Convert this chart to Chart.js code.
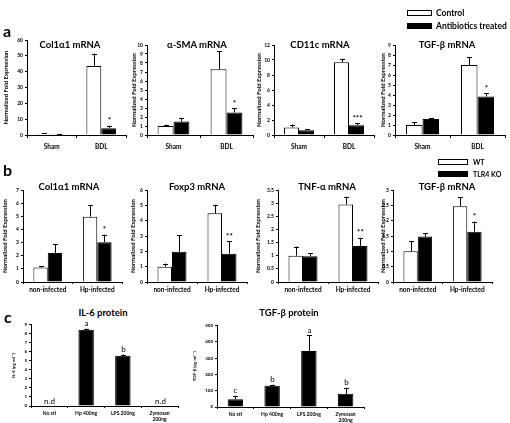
<!DOCTYPE html>
<html>
<head>
<meta charset="utf-8">
<script src="https://cdn.jsdelivr.net/npm/chart.js@4.4.1/dist/chart.umd.min.js"></script>
<style>
  body { margin: 0; background: #fff; }
  #fig { position: relative; width: 510px; height: 423px; overflow: hidden; font-family: Lato, 'Open Sans', sans-serif; color: #000; }
  #fig canvas { position: absolute; }
  .txt { position: absolute; font-weight: bold; white-space: nowrap; transform: translate(-50%, -50%); }
  .letter { position: absolute; font-weight: bold; font-size: 16px; line-height: 1; }
  .box { position: absolute; border: 1px solid #000; box-sizing: border-box; }
  .leg { position: absolute; font-weight: bold; white-space: nowrap; transform: translateY(-50%); }
</style>
</head>
<body>
<div id="fig"></div>
<script>
// categories
const groupsA = ['Sham', 'BDL'];
const groupsB = ['non-infected', 'Hp-infected'];
const groupsC = ['No sti', 'Hp 400ng', 'LPS 200ng', ['Zymosan', '200ng']];

// panel a - Control vs Antibiotics treated
const aCol1Ctrl = [0.8, 43.6];
const aCol1CtrlErr = [0.15, 7.8];
const aCol1Abx = [0.5, 4.3];
const aCol1AbxErr = [0.2, 1.6];
const aCol1AbxSig = ['', '*'];

const aSmaCtrl = [1.0, 7.3];
const aSmaCtrlErr = [0.15, 2.0];
const aSmaAbx = [1.5, 2.5];
const aSmaAbxErr = [0.4, 0.45];
const aSmaAbxSig = ['', '*'];

const aCd11cCtrl = [1.0, 9.7];
const aCd11cCtrlErr = [0.4, 0.45];
const aCd11cAbx = [0.65, 1.3];
const aCd11cAbxErr = [0.13, 0.3];
const aCd11cAbxSig = ['', '***'];

const aTgfCtrl = [1.0, 7.0];
const aTgfCtrlErr = [0.3, 0.8];
const aTgfAbx = [1.6, 3.85];
const aTgfAbxErr = [0.07, 0.35];
const aTgfAbxSig = ['', '*'];

// panel b - WT vs TLR4 KO
const bCol1Wt = [1.1, 4.97];
const bCol1WtErr = [0.12, 0.9];
const bCol1Ko = [2.2, 3.03];
const bCol1KoErr = [0.7, 0.57];
const bCol1KoSig = ['', '*'];

const bFoxWt = [1.0, 4.48];
const bFoxWtErr = [0.2, 0.56];
const bFoxKo = [1.97, 1.85];
const bFoxKoErr = [1.08, 0.82];
const bFoxKoSig = ['', '**'];

const bTnfWt = [1.0, 2.95];
const bTnfWtErr = [0.35, 0.3];
const bTnfKo = [0.98, 1.37];
const bTnfKoErr = [0.12, 0.31];
const bTnfKoSig = ['', '**'];

const bTgfWt = [1.0, 2.47];
const bTgfWtErr = [0.34, 0.29];
const bTgfKo = [1.48, 1.64];
const bTgfKoErr = [0.12, 0.33];
const bTgfKoSig = ['', '*'];

// panel c - protein
const cIl6 = [0, 8.45, 5.55, 0];
const cIl6Err = [0, 0.12, 0.15, 0];
const cIl6Sig = ['n.d', 'a', 'b', 'n.d'];

const cTgf = [48, 131, 344, 81];
const cTgfErr = [21, 6, 99, 38];
const cTgfSig = ['c', 'b', 'a', 'b'];

const FONT = "Lato, 'Open Sans', sans-serif";
const fig = document.getElementById('fig');

// Draws one-sided error bars and significance marks above the bars
const errorBars = {
    id: 'errorBars',
    afterDatasetsDraw(chart, args, opts) {
        const ctx = chart.ctx;
        const yScale = chart.scales.y;
        chart.data.datasets.forEach((ds, di) => {
            const meta = chart.getDatasetMeta(di);
            meta.data.forEach((bar, i) => {
                const e = (ds.errors || [])[i] || 0;
                const top = yScale.getPixelForValue(ds.data[i] + e);
                const x = Math.round(bar.x) + 0.5;
                ctx.save();
                ctx.strokeStyle = '#000';
                ctx.lineWidth = 1;
                if (e > 0) {
                    ctx.beginPath();
                    ctx.moveTo(x, bar.y);
                    ctx.lineTo(x, top);
                    ctx.moveTo(x - 2.5, Math.round(top) + 0.5);
                    ctx.lineTo(x + 2.5, Math.round(top) + 0.5);
                    ctx.stroke();
                }
                const mark = (ds.marks || [])[i];
                if (mark) {
                    ctx.fillStyle = '#000';
                    ctx.font = opts.font || ('bold 8px ' + FONT);
                    ctx.textAlign = 'center';
                    ctx.textBaseline = 'bottom';
                    ctx.fillText(mark, x, top - (opts.gap || 1));
                }
                ctx.restore();
            });
        });
    }
};

function addText(text, x, y, size, cls) {
    const d = document.createElement('div');
    d.className = cls || 'txt';
    d.style.left = x + 'px';
    d.style.top = y + 'px';
    d.style.fontSize = size + 'px';
    d.textContent = text;
    fig.appendChild(d);
}

function makePanel(p) {
    const yTitleSize = p.yTitleSize || 6;
    const left = Math.round(p.tx - yTitleSize * 0.6);
    const top = p.pt - 4;
    const width = p.axR + 3 - left;
    const height = p.zy + p.xh - top;
    const yWidth = p.ax - left;

    const canvas = document.createElement('canvas');
    canvas.width = width;
    canvas.height = height;
    canvas.style.left = left + 'px';
    canvas.style.top = top + 'px';
    canvas.style.width = width + 'px';
    canvas.style.height = height + 'px';
    fig.appendChild(canvas);

    new Chart(canvas, {
        type: 'bar',
        data: { labels: p.labels, datasets: p.datasets },
        options: {
            responsive: false,
            animation: false,
            devicePixelRatio: 1,
            layout: { padding: { top: 4, right: 3, left: 0, bottom: 0 } },
            datasets: { bar: { categoryPercentage: p.cp, barPercentage: p.bp || 1 } },
            plugins: {
                legend: { display: false },
                tooltip: { enabled: false },
                errorBars: { font: p.markFont, gap: p.markGap }
            },
            scales: {
                x: {
                    grid: { display: true, drawOnChartArea: false, tickLength: p.tl, color: '#000', offset: true },
                    border: { color: '#000', width: 1 },
                    ticks: {
                        color: '#000', padding: p.tp, maxRotation: 0, autoSkip: false,
                        font: { family: FONT, size: p.xFont, weight: 'bold', lineHeight: 1.2 }
                    },
                    afterFit(s) { s.height = p.xh; }
                },
                y: {
                    min: 0, max: p.ymax,
                    ticks: {
                        stepSize: p.step, color: '#000', padding: 2,
                        font: { family: FONT, size: p.yFont || 5, weight: 'bold' },
                        callback: v => v
                    },
                    grid: { drawOnChartArea: false, tickLength: 2, color: '#000' },
                    border: { color: '#000', width: 1 },
                    title: {
                        display: true, text: p.yTitle, color: '#000', padding: 0,
                        font: { family: FONT, size: yTitleSize, weight: 'bold', lineHeight: 1.2 }
                    },
                    afterFit(s) { s.width = yWidth; }
                }
            }
        },
        plugins: [errorBars]
    });

    addText(p.title, p.titleX, p.titleY, p.titleSize || 9.5);
}

function pair(ctrl, ctrlErr, trt, trtErr, trtSig) {
    return [
        { data: ctrl, errors: ctrlErr, backgroundColor: '#fff', borderColor: '#000', borderWidth: 1 },
        { data: trt, errors: trtErr, marks: trtSig, backgroundColor: '#000', borderColor: '#000', borderWidth: 1 }
    ];
}

const rowA = { labels: groupsA, zy: 135, xh: 20, tl: 3, tp: 5, xFont: 6.5, cp: 0.6, yTitle: 'Normalized Fold Expression', titleY: 44 };
const rowB = { labels: groupsB, zy: 282, xh: 14, tl: 2, tp: 2, xFont: 6.5, cp: 0.58, yTitle: 'Normalized Fold Expression', titleY: 186, pt: 189 };

makePanel(Object.assign({}, rowA, { ax: 27, axR: 126, pt: 39, tx: 6, ymax: 60, step: 10,
    datasets: pair(aCol1Ctrl, aCol1CtrlErr, aCol1Abx, aCol1AbxErr, aCol1AbxSig), title: 'Col1α1 mRNA', titleX: 70 }));
makePanel(Object.assign({}, rowA, { ax: 147, axR: 253, pt: 44, tx: 134, ymax: 10, step: 1,
    datasets: pair(aSmaCtrl, aSmaCtrlErr, aSmaAbx, aSmaAbxErr, aSmaAbxSig), title: 'α-SMA mRNA', titleX: 197 }));
makePanel(Object.assign({}, rowA, { ax: 274, axR: 374, pt: 44, tx: 259, ymax: 12, step: 2,
    datasets: pair(aCd11cCtrl, aCd11cCtrlErr, aCd11cAbx, aCd11cAbxErr, aCd11cAbxSig), title: 'CD11c mRNA', titleX: 320 }));
makePanel(Object.assign({}, rowA, { ax: 395, axR: 505, pt: 44, tx: 383, ymax: 9, step: 1,
    datasets: pair(aTgfCtrl, aTgfCtrlErr, aTgfAbx, aTgfAbxErr, aTgfAbxSig), title: 'TGF-β mRNA', titleX: 447 }));

makePanel(Object.assign({}, rowB, { ax: 23, axR: 122, tx: 5, ymax: 7, step: 1,
    datasets: pair(bCol1Wt, bCol1WtErr, bCol1Ko, bCol1KoErr, bCol1KoSig), title: 'Col1α1 mRNA', titleX: 69 }));
makePanel(Object.assign({}, rowB, { ax: 147, axR: 247, tx: 133, ymax: 6, step: 1,
    datasets: pair(bFoxWt, bFoxWtErr, bFoxKo, bFoxKoErr, bFoxKoSig), title: 'Foxp3 mRNA', titleX: 197 }));
makePanel(Object.assign({}, rowB, { ax: 278, axR: 378, tx: 258, ymax: 3.5, step: 0.5,
    datasets: pair(bTnfWt, bTnfWtErr, bTnfKo, bTnfKoErr, bTnfKoSig), title: 'TNF-α mRNA', titleX: 327 }));
makePanel(Object.assign({}, rowB, { ax: 393, axR: 492, tx: 383, ymax: 3, step: 0.5,
    datasets: pair(bTgfWt, bTgfWtErr, bTgfKo, bTgfKoErr, bTgfKoSig), title: 'TGF-β mRNA', titleX: 447 }));

const rowC = { labels: groupsC, xh: 20, tl: 2, tp: 2, xFont: 5, cp: 0.42, yTitleSize: 4.5, yFont: 4.5,
    markFont: '8px ' + FONT, markGap: 1, titleSize: 9.5, titleY: 312 };

makePanel(Object.assign({}, rowC, { ax: 31, axR: 178, pt: 324, zy: 406, tx: 14, ymax: 9, step: 1,
    yTitle: 'IL-6 (pg ml⁻¹)', title: 'IL-6 protein', titleX: 103,
    datasets: [{ data: cIl6, errors: cIl6Err, marks: cIl6Sig, backgroundColor: '#000', borderColor: '#000', borderWidth: 1 }] }));
makePanel(Object.assign({}, rowC, { ax: 217, axR: 364, pt: 325, zy: 407, tx: 195, ymax: 500, step: 50,
    yTitle: 'TGF-β (pg ml⁻¹)', title: 'TGF-β protein', titleX: 289,
    datasets: [{ data: cTgf, errors: cTgfErr, marks: cTgfSig, backgroundColor: '#000', borderColor: '#000', borderWidth: 1 }] }));

// panel letters
addText('a', 3, 23, 16, 'letter');
addText('b', 3, 162, 16, 'letter');
addText('c', 4, 309, 16, 'letter');

// legends
function legendItem(x, y, w, h, fill, text, size, tx) {
    const b = document.createElement('div');
    b.className = 'box';
    b.style.left = x + 'px';
    b.style.top = y + 'px';
    b.style.width = w + 'px';
    b.style.height = h + 'px';
    b.style.background = fill;
    fig.appendChild(b);
    addText(text, tx, y + h / 2, size, 'leg');
}
legendItem(407, 10, 25, 6, '#fff', 'Control', 8.5, 436);
legendItem(407, 23, 25, 6, '#000', 'Antibiotics treated', 8.5, 436);
legendItem(438, 159, 30, 6, '#fff', 'WT', 7, 473);
legendItem(438, 171, 30, 6, '#000', 'TLR4 KO', 7, 473);
</script>
</body>
</html>
